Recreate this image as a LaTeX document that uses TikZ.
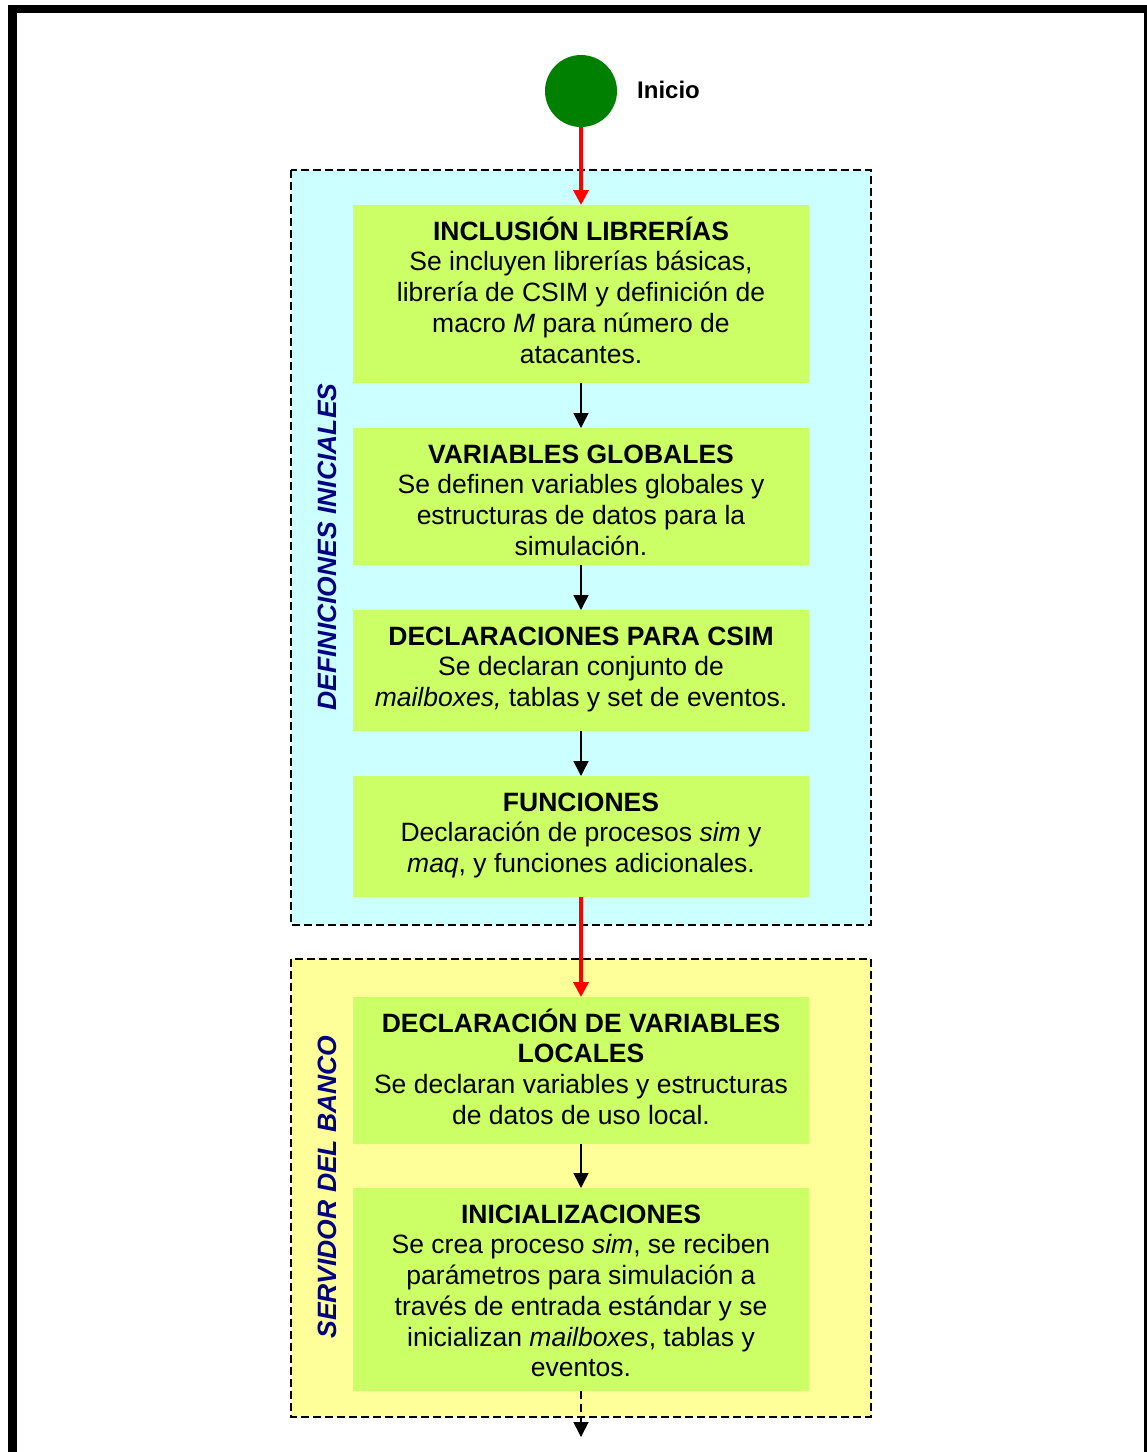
\documentclass[tikz,border=0pt]{standalone}
\usepackage{fontspec}
\setmainfont{Liberation Sans}
\usetikzlibrary{arrows.meta}

\definecolor{groupcyan}{HTML}{CCFFFF}
\definecolor{groupyellow}{HTML}{FFFF99}
\definecolor{stepgreen}{HTML}{CCFF66}
\definecolor{startgreen}{HTML}{008000}
\definecolor{labelnavy}{HTML}{000080}

% top-aligned, centred body of a process box of given height
\newcommand\flowbody[2]{\parbox[t][#1][t]{456pt}{\fontsize{26.5}{30.7}\selectfont\centering\rule{0pt}{35pt}#2}}

\tikzset{
  stepbox/.style={fill=stepgreen, inner sep=0pt, anchor=north},
  groupframe/.style={draw=black, line width=1.8pt, dash pattern=on 8pt off 4pt},
  flowarrow/.style={draw=black, line width=1.6pt, -{Triangle[width=15pt,length=15pt]}},
  mainarrow/.style={draw=red, line width=3.5pt, -{Triangle[width=15pt,length=15pt]}},
  sidelabel/.style={rotate=90, text=labelnavy, font=\fontsize{26.5}{30}\selectfont\bfseries\itshape, inner sep=0pt},
}

\begin{document}
\begin{tikzpicture}[x=1pt, y=-1pt]
  \useasboundingbox (0,0) rectangle (1147,1452);
  \fill[white] (0,0) rectangle (1147,1452);

  % outer frame
  \draw[line width=8.5pt] (12.5,9) rectangle (1148,1470);

  % groups
  \filldraw[groupframe, fill=groupcyan] (291,170) rectangle (871,925);
  \filldraw[groupframe, fill=groupyellow] (291,959) rectangle (871,1417);

  \node[sidelabel] (lab1) at (327,547) {DEFINICIONES INICIALES};
  \node[sidelabel] (lab2) at (327,1187) {SERVIDOR DEL BANCO};

  % start
  \node[circle, fill=startgreen, minimum size=72pt, inner sep=0pt] (start) at (581,91) {};
  \node[anchor=west, inner sep=0pt, font=\fontsize{24}{28}\selectfont\bfseries] (startlab) at (637,90) {Inicio};

  % process boxes
  \node[stepbox] (b1) at (581,205) {\flowbody{178pt}{\textbf{INCLUSIÓN LIBRERÍAS}\\
    Se incluyen librerías básicas,\\ librería de CSIM y definición de\\
    macro \textit{M} para número de\\ atacantes.}};
  \node[stepbox] (b2) at (581,428) {\flowbody{137pt}{\textbf{VARIABLES GLOBALES}\\
    Se definen variables globales y\\ estructuras de datos para la\\ simulación.}};
  \node[stepbox] (b3) at (581,610) {\flowbody{121pt}{\textbf{DECLARACIONES PARA CSIM}\\
    Se declaran conjunto de\\ \textit{mailboxes,} tablas y set de eventos.}};
  \node[stepbox] (b4) at (581,776) {\flowbody{121pt}{\textbf{FUNCIONES}\\
    Declaración de procesos \textit{sim} y\\ \textit{maq}, y funciones adicionales.}};
  \node[stepbox] (b5) at (581,997) {\flowbody{147pt}{\textbf{DECLARACIÓN DE VARIABLES}\\ \textbf{LOCALES}\\
    Se declaran variables y estructuras\\ de datos de uso local.}};
  \node[stepbox] (b6) at (581,1188) {\flowbody{203pt}{\textbf{INICIALIZACIONES}\\
    Se crea proceso \textit{sim}, se reciben\\ parámetros para simulación a\\
    través de entrada estándar y se\\ inicializan \textit{mailboxes}, tablas y\\ eventos.}};

  \coordinate (next) at (581,1437);

  % connectors
  \draw[mainarrow] (start) -- (b1);
  \draw[flowarrow] (b1) -- (b2);
  \draw[flowarrow] (b2) -- (b3);
  \draw[flowarrow] (b3) -- (b4);
  \draw[mainarrow] (b4) -- (b5);
  \draw[flowarrow] (b5) -- (b6);
  \draw[flowarrow, dash pattern=on 8pt off 5pt] (b6) -- (next);
\end{tikzpicture}
\end{document}
